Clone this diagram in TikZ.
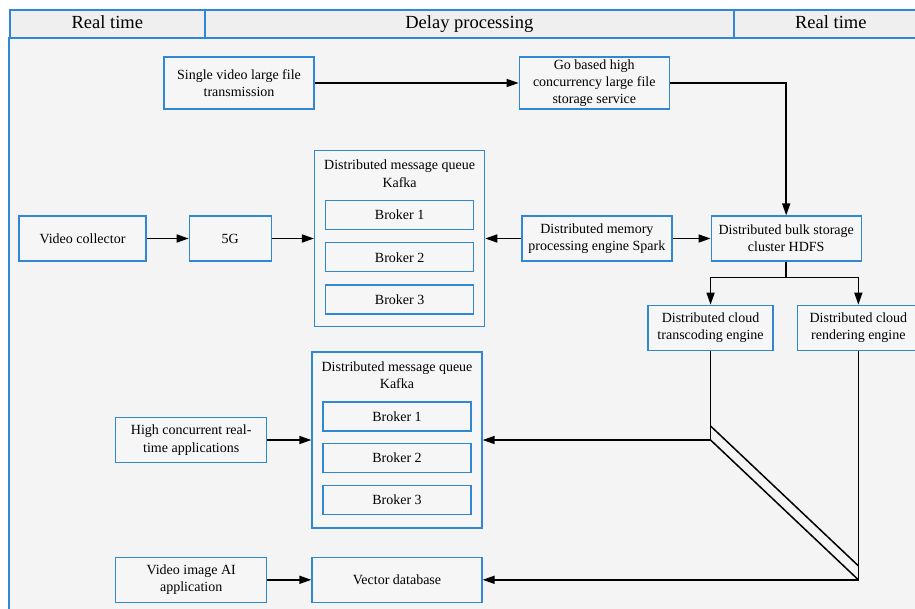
\documentclass[tikz,border=0pt]{standalone}
\usepackage{fontspec}
\setmainfont{Liberation Serif}
\usetikzlibrary{arrows.meta, positioning}
\definecolor{clrBorder}{HTML}{3088D4}
\definecolor{clrFill}{HTML}{F6F6F6}
\definecolor{clrPanel}{HTML}{F4F4F4}
\definecolor{clrHead}{HTML}{EFEFEF}

\begin{document}
\begin{tikzpicture}[
  x=1pt, y=1pt,
  node distance = 0pt,
  box/.style = {
    rectangle,
    draw=clrBorder,
    line width=1.3pt,
    fill=clrFill,
    minimum width=150pt,
    minimum height=45pt,
    inner sep=1pt,
    align=center,
    font=\fontsize{14}{17.3}\selectfont
  },
  queue/.style = {box, minimum width=170pt, minimum height=176pt},
  broker/.style = {box, minimum width=148pt, minimum height=29pt},
  title/.style = {align=center, inner sep=0pt, font=\fontsize{14}{17.3}\selectfont},
  head/.style = {
    rectangle,
    draw=clrBorder,
    line width=1.6pt,
    fill=clrHead,
    minimum height=28pt,
    text height=13pt,
    text depth=4pt,
    anchor=north west,
    font=\fontsize{18.5}{22}\selectfont
  },
  panel/.style = {draw=clrBorder, line width=1.6pt, fill=clrPanel},
  arrow/.style = {-{Triangle[length=12pt, width=8pt]}, line width=1.5pt, color=black},
  line/.style = {line width=1.5pt, color=black}
]

\path[use as bounding box, clip] (0,0) rectangle (915,-608);

% ── frame ────────────────────────────────────────────────────────────────────
\draw[panel] (9,-38) rectangle (930,-625);
\node[head, minimum width=195pt] (hdLeft)  at (9,-9)   {Real time};
\node[head, minimum width=529pt] (hdMid)   at (204,-9) {Delay processing};
\node[head, minimum width=194pt] (hdRight) at (733,-9) {Real time};

% ── upper row ────────────────────────────────────────────────────────────────
\node[box, minimum width=127pt] (collector) at (82.5,-238.5) {Video collector};
\node[box, minimum width=82pt, right=42pt of collector] (fiveg) {5G};
\node[queue, right=42pt of fiveg] (kafkaA) {};
\node[title, below=10pt of kafkaA.north] (kafkaAtitle) {Distributed message queue\\Kafka};
\node[broker, below=50pt of kafkaA.north] (brokerA1) {Broker 1};
\node[broker, below=12pt of brokerA1] (brokerA2) {Broker 2};
\node[broker, below=12pt of brokerA2] (brokerA3) {Broker 3};
\node[box, right=36pt of kafkaA] (spark) {Distributed memory\\processing engine Spark};
\node[box, right=38pt of spark] (hdfs) {Distributed bulk storage\\cluster HDFS};

\node[box, minimum height=52pt] (single) at (239,-83) {Single video large file\\transmission};
\node[box, minimum height=52pt, right=204pt of single] (gostore) {Go based high\\concurrency large file\\storage service};

\node[box, minimum width=125pt, below=43pt of hdfs.south west] (transcode) {Distributed cloud\\transcoding engine};
\node[box, minimum width=122pt, right=23pt of transcode] (render) {Distributed cloud\\rendering engine};

% ── lower rows ───────────────────────────────────────────────────────────────
\node[queue] (kafkaB) at (397,-440) {};
\node[title, below=10pt of kafkaB.north] (kafkaBtitle) {Distributed message queue\\Kafka};
\node[broker, below=50pt of kafkaB.north] (brokerB1) {Broker 1};
\node[broker, below=11pt of brokerB1] (brokerB2) {Broker 2};
\node[broker, below=12pt of brokerB2] (brokerB3) {Broker 3};
\node[box, minimum width=151pt, left=44pt of kafkaB] (highapp) {High concurrent real-\\time applications};

\node[box, minimum width=170pt, below=28pt of kafkaB] (vector) {Vector database};
\node[box, minimum width=151pt, left=44pt of vector] (aiapp) {Video image AI\\application};

% ── arrows ───────────────────────────────────────────────────────────────────
\draw[arrow] (collector) -- (fiveg);
\draw[arrow] (fiveg)     -- (kafkaA);
\draw[arrow] (spark)     -- (kafkaA);
\draw[arrow] (spark)     -- (hdfs);
\draw[arrow] (single)    -- (gostore);
\draw[arrow] (gostore)   -| (hdfs);
\draw[arrow] (hdfs.south) -- ++(0,-16) -| (transcode);
\draw[arrow] (hdfs.south) -- ++(0,-16) -| (render);
\draw[arrow] (highapp)   -- (kafkaB);
\draw[arrow] (aiapp)     -- (vector);
\draw[arrow] (transcode.south) |- (kafkaB.east);
\draw[arrow] (render.south)    |- (vector.east);

% ── crossing band ────────────────────────────────────────────────────────────
\coordinate (bendT) at (transcode.south |- kafkaB.east);
\coordinate (bendR) at (render.south |- vector.east);
\draw[line] (bendT) -- (bendR);
\draw[line] ([yshift=14pt]bendT) -- ([yshift=14pt]bendR);

\end{tikzpicture}
\end{document}
